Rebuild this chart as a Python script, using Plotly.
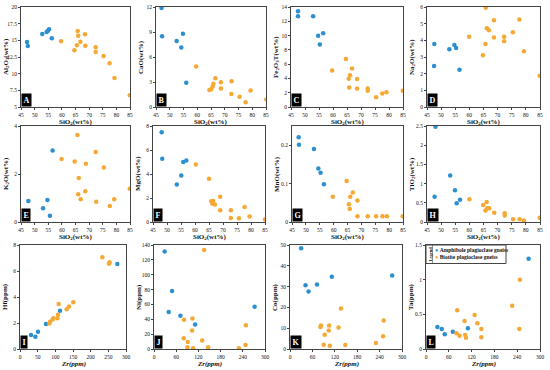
import plotly.graph_objects as go

W, H = 550, 370
BLUE = "#2B8FD0"
ORANGE = "#F5A833"
FONT = "Liberation Serif"

# ---------------- data ----------------
# SiO2 panels (A-H): x = SiO2 (wt%)
A_amp_x = [47.2, 47.5, 52.8, 54.4, 54.9, 55.3, 56.3]
A_amp_y = [14.75, 14.15, 15.95, 16.25, 16.45, 16.65, 15.3]
A_bio_x = [59.7, 64.6, 65.5, 65.8, 66.0, 66.8, 68.5, 68.6, 72.4, 72.4, 75.3, 77.5, 79.3, 84.9]
A_bio_y = [14.85, 13.5, 14.25, 16.4, 15.7, 14.8, 15.9, 14.2, 13.95, 13.25, 12.65, 11.55, 9.35, 6.75]

B_amp_x = [47.0, 47.2, 52.5, 54.2, 54.8, 56.0]
B_amp_y = [11.88, 8.5, 7.93, 7.15, 8.8, 2.92]
B_bio_x = [59.6, 64.4, 65.1, 65.6, 65.9, 66.6, 68.6, 68.6, 72.5, 72.4, 75.4, 77.6, 79.4, 85.1]
B_bio_y = [4.85, 2.05, 2.13, 2.47, 2.79, 3.45, 2.96, 2.22, 3.08, 1.56, 1.23, 0.58, 1.97, 0.9]

C_amp_x = [47.5, 47.5, 52.9, 54.7, 55.3, 56.5]
C_amp_y = [13.39, 12.72, 12.72, 9.98, 8.75, 10.31]
C_bio_x = [59.7, 64.6, 65.6, 65.8, 66.1, 66.8, 68.6, 68.6, 72.4, 72.4, 75.4, 77.6, 79.1, 84.9]
C_bio_y = [5.11, 6.72, 3.97, 2.74, 4.45, 5.39, 3.92, 2.6, 2.6, 2.27, 1.37, 1.89, 2.08, 2.27]

D_amp_x = [47.6, 47.5, 52.9, 54.7, 55.3, 56.5]
D_amp_y = [3.78, 2.46, 3.46, 3.72, 3.54, 2.24]
D_bio_x = [59.9, 64.8, 65.7, 65.8, 66.2, 66.9, 68.7, 68.7, 72.3, 72.3, 75.4, 77.7, 79.3, 84.9]
D_bio_y = [4.21, 3.11, 3.78, 5.96, 4.72, 4.6, 5.21, 4.17, 4.21, 3.95, 4.49, 5.25, 3.34, 1.87]

E_amp_x = [47.7, 53.1, 54.7, 55.6, 56.6]
E_amp_y = [0.87, 0.57, 0.92, 0.26, 2.98]
E_bio_x = [59.9, 64.7, 65.7, 66.0, 66.2, 66.9, 68.6, 68.8, 72.4, 72.6, 75.4, 77.6, 79.2, 84.9]
E_bio_y = [2.62, 2.52, 3.63, 1.16, 1.83, 0.95, 1.28, 2.43, 2.92, 0.84, 2.27, 0.67, 0.95, 1.39]

F_amp_x = [48.1, 48.3, 53.5, 55.1, 55.8, 56.9]
F_amp_y = [7.47, 5.27, 3.13, 3.88, 4.99, 5.13]
F_bio_x = [60.3, 65.0, 65.8, 66.2, 66.5, 67.1, 69.0, 69.0, 72.8, 72.8, 75.7, 77.7, 79.5, 85.0]
F_bio_y = [4.79, 3.6, 1.73, 1.53, 1.76, 1.45, 2.1, 0.97, 0.97, 0.33, 0.31, 1.25, 0.45, 0.2]

G_amp_x = [47.4, 47.5, 52.9, 54.5, 55.3, 56.5]
G_amp_y = [0.221, 0.201, 0.190, 0.139, 0.128, 0.098]
G_bio_x = [59.7, 64.7, 65.5, 65.8, 66.0, 66.9, 68.6, 68.6, 72.3, 75.3, 77.6, 79.2, 84.9]
G_bio_y = [0.066, 0.107, 0.046, 0.034, 0.066, 0.077, 0.056, 0.015, 0.015, 0.015, 0.015, 0.015, 0.015]

H_amp_x = [48.0, 47.7, 53.2, 54.9, 55.5, 56.7]
H_amp_y = [2.48, 0.66, 1.21, 0.83, 0.49, 0.58]
H_bio_x = [60.0, 64.9, 66.1, 65.7, 66.3, 67.0, 68.8, 72.5, 72.5, 75.5, 77.8, 79.3, 84.9]
H_bio_y = [0.59, 0.44, 0.52, 0.30, 0.36, 0.36, 0.24, 0.23, 0.17, 0.07, 0.07, 0.04, 0.11]

# Zr panels (I-L): x = Zr (ppm)
I_amp_x = [31.1, 43.4, 50.9, 73.6, 113.2, 275.5]
I_amp_y = [1.08, 0.95, 1.33, 1.92, 2.95, 6.54]
I_bio_x = [83.0, 84.9, 92.5, 94.3, 105.7, 107.5, 109.4, 132.1, 138.7, 150.9, 233.0, 251.9, 253.8]
I_bio_y = [1.97, 2.1, 2.26, 2.36, 2.36, 2.64, 3.46, 3.05, 3.26, 3.59, 7.05, 6.56, 6.67]

J_amp_x = [28.9, 39.7, 48.8, 71.4, 111.1, 271.9]
J_amp_y = [131.4, 49.7, 78.1, 44.7, 33.0, 56.9]
J_bio_x = [135.5, 81.3, 103.9, 103.0, 80.4, 91.3, 90.4, 105.7, 130.1, 146.3, 229.4, 247.5, 248.4]
J_bio_y = [133.2, 39.3, 41.1, 24.8, 14.5, 9.5, 2.3, 0.9, 11.3, 2.3, 0.9, 5.4, 32.1]

K_amp_x = [29.8, 41.6, 49.7, 72.3, 112.0, 273.7]
K_amp_y = [48.4, 30.6, 27.7, 31.0, 34.7, 35.3]
K_bio_x = [81.3, 83.1, 93.0, 90.3, 104.8, 103.9, 106.6, 130.1, 136.4, 148.1, 230.3, 249.3, 251.1]
K_bio_y = [10.6, 11.3, 6.8, 2.1, 11.3, 8.9, 1.6, 10.3, 19.5, 1.9, 2.9, 6.1, 13.7]

L_amp_x = [30.0, 41.5, 49.4, 70.6, 110.3, 270.1]
L_amp_y = [0.317, 0.288, 0.212, 0.25, 0.298, 1.303]
L_bio_x = [82.1, 80.3, 88.3, 101.5, 103.2, 105.0, 128.0, 135.0, 145.6, 145.6, 226.8, 247.1, 245.4]
L_bio_y = [0.558, 0.226, 0.192, 0.404, 0.202, 0.163, 0.49, 0.37, 0.288, 0.168, 0.625, 1.0, 0.288]

series_names = ["Amphibole plagioclase gneiss", "Biotite plagioclase gneiss"]
panel_letters = ["A", "B", "C", "D", "E", "F", "G", "H", "I", "J", "K", "L"]
y_titles = ["Al<sub>2</sub>O<sub>3</sub>(wt%)", "CaO(wt%)", "Fe<sub>2</sub>O<sub>3</sub>T(wt%)",
            "Na<sub>2</sub>O(wt%)", "K<sub>2</sub>O(wt%)", "MgO(wt%)", "MnO(wt%)",
            "TiO<sub>2</sub>(wt%)", "Hf(ppm)", "Ni(ppm)", "Co(ppm)", "Ta(ppm)"]
x_title_si = "SiO<sub>2</sub>(wt%)"
x_title_zr = "<i>Zr(ppm)</i>"
y_ranges = [[5, 20], [0, 12], [0, 14], [0, 6], [0, 4], [0, 8], [0, 0.25], [0, 2.5],
            [0, 8], [0, 140], [0, 50], [0, 1.5]]
y_dticks = [2.5, 3, 2, 1, 2, 2, 0.1, 0.5, 2, 20, 10, 0.5]
x_dticks = [5, 5, 5, 5, 5, 5, 5, 5, 50, 60, 60, 60]

panels = [
    (A_amp_x, A_amp_y, A_bio_x, A_bio_y), (B_amp_x, B_amp_y, B_bio_x, B_bio_y),
    (C_amp_x, C_amp_y, C_bio_x, C_bio_y), (D_amp_x, D_amp_y, D_bio_x, D_bio_y),
    (E_amp_x, E_amp_y, E_bio_x, E_bio_y), (F_amp_x, F_amp_y, F_bio_x, F_bio_y),
    (G_amp_x, G_amp_y, G_bio_x, G_bio_y), (H_amp_x, H_amp_y, H_bio_x, H_bio_y),
    (I_amp_x, I_amp_y, I_bio_x, I_bio_y), (J_amp_x, J_amp_y, J_bio_x, J_bio_y),
    (K_amp_x, K_amp_y, K_bio_x, K_bio_y), (L_amp_x, L_amp_y, L_bio_x, L_bio_y),
]

# pixel boxes (left, right, top, bottom) of each plot area
boxes = [
    (21, 130, 7, 107), (156, 266, 7, 107), (291, 403, 7, 107), (427, 540, 7, 107),
    (21, 130, 126, 222), (153, 265, 126, 222), (292, 403, 126, 222), (427, 540, 126, 222),
    (20, 126, 245, 349), (154, 265, 245, 349), (290, 402, 245, 349), (426, 540, 245, 349),
]


def px(x):
    return x / W


def py(y):
    return 1 - y / H


fig = go.Figure()
layout = {}
annotations = []
title_font = dict(family=FONT, size=7, color="#111")
for i, (p, box) in enumerate(zip(panels, boxes)):
    n = i + 1
    xa = "x" if n == 1 else f"x{n}"
    ya = "y" if n == 1 else f"y{n}"
    ax_x, ax_y, bx, by = p
    fig.add_trace(go.Scatter(x=ax_x, y=ax_y, mode="markers", xaxis=xa, yaxis=ya,
                             name=series_names[0], showlegend=False,
                             marker=dict(color=BLUE, size=4.5, line=dict(width=0))))
    fig.add_trace(go.Scatter(x=bx, y=by, mode="markers", xaxis=xa, yaxis=ya,
                             name=series_names[1], showlegend=False,
                             marker=dict(color=ORANGE, size=4.5, line=dict(width=0))))
    l, r, t, b = box
    is_si = i < 8
    common = dict(showline=True, linecolor="#444", linewidth=1, mirror=True,
                  showgrid=False, zeroline=False, ticks="outside", ticklen=2,
                  tickwidth=1, tickcolor="#444", automargin=False,
                  tickfont=dict(family=FONT, size=5.5, color="#111"))
    layout["xaxis" if n == 1 else f"xaxis{n}"] = dict(
        domain=[px(l), px(r)], anchor=ya,
        range=[45, 85] if is_si else [0, 300], dtick=x_dticks[i], tick0=0, **common)
    layout["yaxis" if n == 1 else f"yaxis{n}"] = dict(
        domain=[py(b), py(t)], anchor=xa,
        range=y_ranges[i], dtick=y_dticks[i], tick0=0, **common)
    # axis titles
    annotations.append(dict(text=f"<b>{x_title_si if is_si else x_title_zr}</b>",
                            xref="paper", yref="paper", x=px((l + r) / 2),
                            y=py(b + 10), xanchor="center", yanchor="top",
                            showarrow=False, font=title_font, borderpad=0))
    annotations.append(dict(text=f"<b>{y_titles[i]}</b>", xref="paper", yref="paper",
                            x=px(l - 15), y=py((t + b) / 2), textangle=-90,
                            xanchor="center", yanchor="middle", showarrow=False,
                            font=title_font, borderpad=0))
    annotations.append(dict(text=f"<b>{panel_letters[i]}</b>", xref=f"{xa} domain",
                            yref=f"{ya} domain", x=0, y=0, xanchor="left", yanchor="bottom",
                            showarrow=False, bgcolor="black",
                            font=dict(family=FONT, size=8, color="white"),
                            borderpad=1.5))

# legend drawn inside panel L
leg_font = dict(family=FONT, size=5.5, color="#111")
annotations.append(dict(text="<b>Legend</b>", xref="paper", yref="paper",
                        x=px(429.5), y=py(254), textangle=-90, showarrow=False,
                        font=dict(family=FONT, size=4.5, color="#111"),
                        xanchor="center", yanchor="middle", borderpad=0))
for k, (name, col) in enumerate(zip(series_names, [BLUE, ORANGE])):
    yy = 250 + k * 7.3
    annotations.append(dict(text=f"<span style='color:{col}'>●</span> <b>{name}</b>",
                            xref="paper", yref="paper", x=px(434), y=py(yy),
                            xanchor="left", yanchor="middle", showarrow=False,
                            font=leg_font, borderpad=0))

layout["shapes"] = [dict(type="rect", xref="paper", yref="paper",
                         x0=px(426), x1=px(506), y0=py(263.5), y1=py(245),
                         line=dict(color="#444", width=1), fillcolor="white", layer="below"),
                    dict(type="line", xref="paper", yref="paper",
                         x0=px(432.5), x1=px(432.5), y0=py(263.5), y1=py(245),
                         line=dict(color="#444", width=0.6))]

fig.update_layout(**layout)
fig.update_layout(
    width=W, height=H, margin=dict(l=0, r=0, t=0, b=0),
    paper_bgcolor="white", plot_bgcolor="rgba(0,0,0,0)",
    annotations=annotations, showlegend=False,
)
fig.write_html("out.html", config={"displayModeBar": False},
               post_script="document.body.style.margin='0px';"
                           "document.body.style.overflow='hidden';")
